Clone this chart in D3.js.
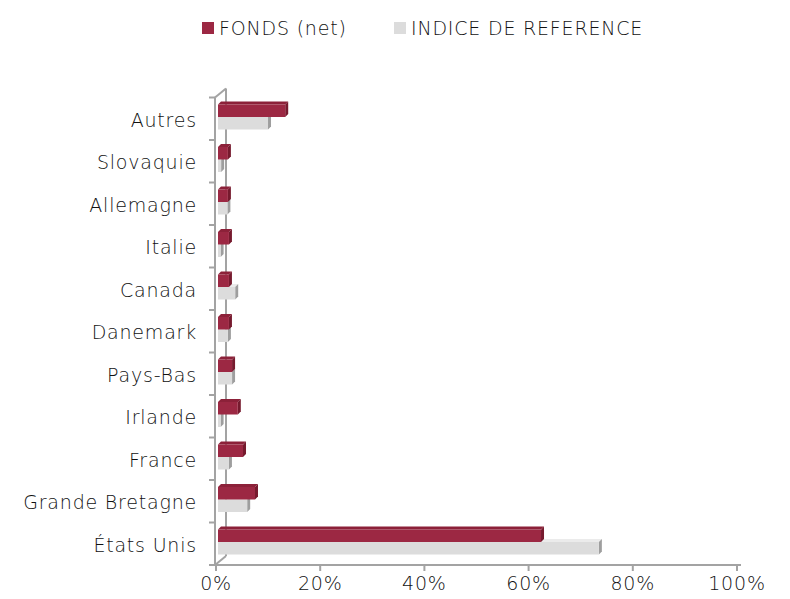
<!DOCTYPE html>
<html>
<head>
<meta charset="utf-8">
<script src="https://cdn.jsdelivr.net/npm/d3@7"></script>
<style>
  body { margin: 0; background: #fff; }
  svg text { font-family: "DejaVu Sans", sans-serif; font-weight: 200; fill: #111; letter-spacing: 0.8px; }
</style>
</head>
<body>
<div id="chart"></div>
<script>
// catégories (de haut en bas)
const categories = ['Autres', 'Slovaquie', 'Allemagne', 'Italie', 'Canada', 'Danemark',
  'Pays-Bas', 'Irlande', 'France', 'Grande Bretagne', 'États Unis'];
const seriesNames = ['FONDS (net)', 'INDICE DE REFERENCE'];
const fonds = [0.129, 0.019, 0.019, 0.021, 0.021, 0.021, 0.027, 0.038, 0.048, 0.071, 0.620];
const indice = [0.096, 0.006, 0.018, 0.005, 0.033, 0.019, 0.027, 0.005, 0.021, 0.056, 0.731];
const xTicks = [0, 0.2, 0.4, 0.6, 0.8, 1.0];

const width = 790, height = 599;
const colors = {
  fonds: { front: '#9c2843', top: '#8c2139', side: '#761a2e' },
  indice: { front: '#dcdcdc', top: '#ebebeb', side: '#9e9e9e' }
};
const depth = { dx: 3, dy: -3 };   // petit effet 3D des barres
const wall = { dx: 11, dy: -9 };   // profondeur des axes

const svg = d3.select('#chart').append('svg')
  .attr('width', width).attr('height', height);

const x = d3.scaleLinear().domain([0, 1]).range([216, 737]);
const y = d3.scaleBand().domain(categories).range([97.5, 565]);
// position verticale dans chaque bande
const inner = d3.scaleBand().domain(['fonds', 'indice']).range([7, 32]);

// axes (mur)
const axisColor = '#a3a3a3';
const g = svg.append('g');
g.append('line').attr('x1', 215).attr('x2', 215).attr('y1', y.range()[0]).attr('y2', y.range()[1])
  .attr('stroke', axisColor).attr('stroke-width', 2);
g.append('line').attr('x1', 215 + wall.dx).attr('x2', 215 + wall.dx)
  .attr('y1', y.range()[0] + wall.dy).attr('y2', y.range()[1] + wall.dy)
  .attr('stroke', axisColor).attr('stroke-width', 2);
g.append('line').attr('x1', 215).attr('y1', y.range()[0]).attr('x2', 215 + wall.dx).attr('y2', y.range()[0] + wall.dy)
  .attr('stroke', axisColor).attr('stroke-width', 2);
g.append('line').attr('x1', 215).attr('y1', y.range()[1]).attr('x2', 215 + wall.dx).attr('y2', y.range()[1] + wall.dy)
  .attr('stroke', axisColor).attr('stroke-width', 2);

// ticks catégories
const bounds = categories.map(c => y(c)).concat([y.range()[1]]);
g.selectAll('.ytick').data(bounds).enter().append('line')
  .attr('x1', 209).attr('x2', 215).attr('y1', d => d).attr('y2', d => d)
  .attr('stroke', axisColor).attr('stroke-width', 2);

// axe X
g.append('line').attr('x1', 214).attr('x2', 741).attr('y1', 565).attr('y2', 565)
  .attr('stroke', axisColor).attr('stroke-width', 2);
g.selectAll('.xtick').data(xTicks).enter().append('line')
  .attr('x1', d => x(d)).attr('x2', d => x(d)).attr('y1', 565).attr('y2', 571)
  .attr('stroke', axisColor).attr('stroke-width', 2);
g.selectAll('.xlabel').data(xTicks).enter().append('text')
  .attr('x', d => x(d)).attr('y', 590).attr('text-anchor', 'middle')
  .attr('font-size', 19).text(d => d3.format('.0%')(d));

// libellés catégories
g.selectAll('.ylabel').data(categories).enter().append('text')
  .attr('x', 197).attr('y', d => y(d) + y.bandwidth() / 2 + 8)
  .attr('text-anchor', 'end').attr('font-size', 19).text(d => d);

// barres 3D
function drawBars(key, values) {
  const c = colors[key];
  const bars = svg.append('g').selectAll('g').data(values).enter().append('g');
  const x0 = x(0) + 2;
  const top = (d, i) => y(categories[i]) + inner(key);
  const h = inner.bandwidth();
  bars.append('path').attr('fill', c.top)
    .attr('d', (d, i) => {
      const x1 = x(d) + 2, t = top(d, i);
      return `M${x0},${t}L${x0 + depth.dx},${t + depth.dy}L${x1 + depth.dx},${t + depth.dy}L${x1},${t}Z`;
    });
  bars.append('path').attr('fill', c.side)
    .attr('d', (d, i) => {
      const x1 = x(d) + 2, t = top(d, i);
      return `M${x1},${t}L${x1 + depth.dx},${t + depth.dy}L${x1 + depth.dx},${t + h + depth.dy}L${x1},${t + h}Z`;
    });
  bars.append('rect').attr('fill', c.front)
    .attr('x', x0).attr('y', (d, i) => top(d, i))
    .attr('width', d => x(d) + 2 - x0).attr('height', h);
}
drawBars('indice', indice);
drawBars('fonds', fonds);

// légende
const legend = svg.append('g');
const legendItems = [
  { name: seriesNames[0], color: colors.fonds.front, x: 202 },
  { name: seriesNames[1], color: colors.indice.front, x: 394 }
];
legend.selectAll('rect').data(legendItems).enter().append('rect')
  .attr('x', d => d.x).attr('y', 22).attr('width', 12).attr('height', 12)
  .attr('fill', d => d.color);
legend.selectAll('text').data(legendItems).enter().append('text')
  .attr('x', d => d.x + 17).attr('y', 35).attr('font-size', 19)
  .text(d => d.name);
</script>
</body>
</html>
